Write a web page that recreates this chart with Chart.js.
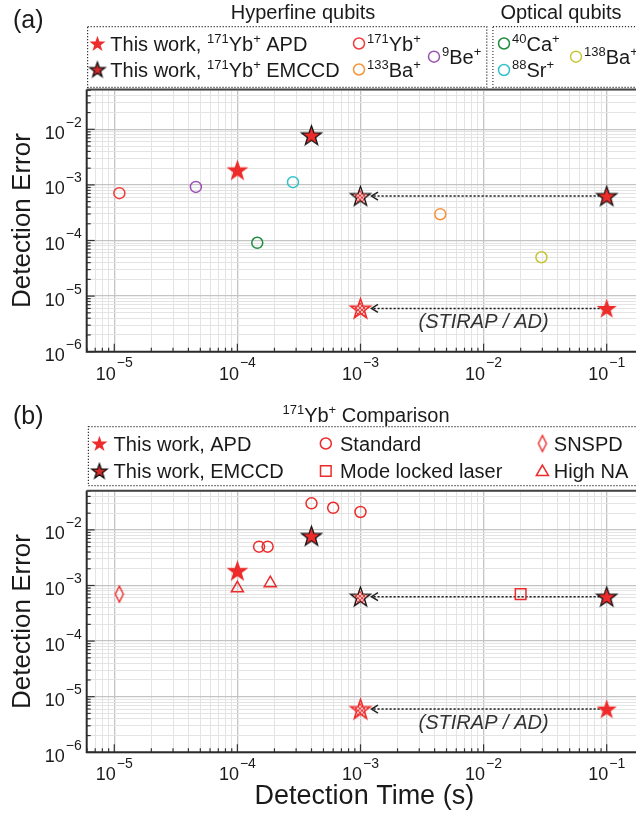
<!DOCTYPE html>
<html lang="en">
<head>
<meta charset="UTF-8">
<title>Detection error vs detection time</title>
<style>
    html, body {
        margin: 0;
        padding: 0;
        background: #fff;
        overflow: hidden;
    }
    .panel {
        position: absolute;
        left: 0;
    }
    #panelA { top: 0; }
    #panelB { top: 400px; }
</style>
<script src="https://cdn.jsdelivr.net/npm/chart.js"></script>
</head>
<body>

<canvas id="panelA" class="panel" width="636" height="400"></canvas>
<canvas id="panelB" class="panel" width="636" height="417"></canvas>

<script>
// decade labels on the axes (exponents)
var xDecades = [-5, -4, -3, -2, -1];
var yDecades = [-6, -5, -4, -3, -2];

// this work (both panels)
var apdTime = [1e-4], apdErr = [1.85e-3];
var emccdTime = [4e-4], emccdErr = [7.8e-3];
// projected with STIRAP / AD: measured at slowTime, shortened to fastTime
var slowTime = [1e-1], fastTime = [1e-3];
var emccdProjErr = [6.3e-4], apdProjErr = [6e-6];

// (a) other hyperfine and optical qubits
var yb171Time = [1.1e-5], yb171Err = [7.1e-4];
var be9Time = [4.6e-5], be9Err = [9.2e-4];
var ba133Time = [4.45e-3], ba133Err = [2.97e-4];
var ca40Time = [1.45e-4], ca40Err = [9.1e-5];
var sr88Time = [2.83e-4], sr88Err = [1.12e-3];
var ba138Time = [2.95e-2], ba138Err = [5.0e-5];

// (b) 171Yb+ comparison
var standardTime = [1.5e-4, 1.76e-4, 4e-4, 6e-4, 1e-3];
var standardErr = [5e-3, 5e-3, 3e-2, 2.5e-2, 2.1e-2];
var highNaTime = [1e-4, 1.85e-4], highNaErr = [8.9e-4, 1.1e-3];
var snspdTime = [1.1e-5], snspdErr = [7e-4];
var modeLockedTime = [2e-2], modeLockedErr = [7e-4];

// axis ranges
var xMin = 5.97e-6, xMax = 0.173;
var yMin = 1e-6, yMaxA = 0.052, yMaxB = 0.0507;

var RED = '#ee2b2b';
var FONT = "'Liberation Sans', Arial, Helvetica, sans-serif";
var INK = '#1a1a1a';

// ---------- markers ----------
function starPath(g, cx, cy, R) {
    g.beginPath();
    for (var k = 0; k < 10; k++) {
        var ang = -Math.PI / 2 + k * Math.PI / 5;
        var rr = k % 2 === 0 ? R : R * 0.4;
        g.lineTo(cx + rr * Math.cos(ang), cy + rr * Math.sin(ang));
    }
    g.closePath();
}

function starMarker(R, fill, stroke, lw, hatched) {
    var s = Math.ceil(2 * R + 4);
    var c = document.createElement('canvas');
    c.width = s; c.height = s;
    var g = c.getContext('2d');
    starPath(g, s / 2, s / 2 + R * 0.08, R);
    if (hatched) {
        var p = document.createElement('canvas');
        p.width = 4; p.height = 4;
        var pg = p.getContext('2d');
        pg.fillStyle = '#f9c4c4';
        pg.fillRect(0, 0, 4, 4);
        pg.fillStyle = '#ef3a3a';
        for (var i = 0; i < 4; i++) {
            pg.fillRect(i, i, 1, 1);
            pg.fillRect(3 - i, i, 1, 1);
        }
        g.fillStyle = g.createPattern(p, 'repeat');
    } else {
        g.fillStyle = fill;
    }
    g.fill();
    if (stroke) {
        g.lineJoin = 'miter';
        g.strokeStyle = stroke;
        g.lineWidth = lw;
        g.stroke();
    }
    return c;
}

function diamondMarker(color) {
    var c = document.createElement('canvas');
    c.width = 12; c.height = 20;
    var g = c.getContext('2d');
    g.beginPath();
    g.moveTo(6, 2); g.lineTo(10, 10); g.lineTo(6, 18); g.lineTo(2, 10);
    g.closePath();
    g.strokeStyle = color;
    g.lineWidth = 1.4;
    g.stroke();
    return c;
}

var starApd = starMarker(11.5, RED);
var starRed = starMarker(10.5, RED);
var starRedEdge = starMarker(10.5, RED, '#111', 1.25);
var starHatchDark = starMarker(10.5, null, '#111', 1.25, true);
var starHatchRed = starMarker(10.5, null, RED, 1.5, true);
var legStarApd = starMarker(8.5, RED);
var legStarEmccd = starMarker(8, '#d42a2a', '#111', 1.3);
var diamond = diamondMarker(RED);

function pts(xs, ys) {
    return xs.map(function (x, i) { return { x: x, y: ys[i] }; });
}

function series(xs, ys, style, color, radius) {
    return {
        data: pts(xs, ys),
        pointStyle: style,
        pointRadius: radius,
        borderColor: color,
        backgroundColor: 'rgba(0,0,0,0)',
        pointBorderWidth: 1.5,
        showLine: false
    };
}

function projected() {
    return [
        series(slowTime, emccdProjErr, starRedEdge, RED, 10),
        series(fastTime, emccdProjErr, starHatchDark, RED, 10),
        series(slowTime, apdProjErr, starRed, RED, 10),
        series(fastTime, apdProjErr, starHatchRed, RED, 10)
    ];
}

// ---------- axes ----------
function logTicks(min, max) {
    var out = [];
    for (var e = Math.floor(Math.log10(min)); e <= Math.ceil(Math.log10(max)); e++) {
        for (var m = 1; m <= 9; m++) {
            var v = m * Math.pow(10, e);
            if (v >= min * 0.9999 && v <= max * 1.0001) out.push({ value: v, major: m === 1 });
        }
    }
    return out;
}

function logAxis(min, max) {
    return {
        type: 'logarithmic',
        min: min,
        max: max,
        afterBuildTicks: function (scale) { scale.ticks = logTicks(scale.min, scale.max); },
        ticks: { display: false },
        border: { display: false },
        grid: {
            drawTicks: false,
            color: function (c) { return c.tick && c.tick.major ? '#c4c4c4' : '#e4e4e4'; },
            lineWidth: function (c) { return c.tick && c.tick.major ? 1.3 : 1; }
        }
    };
}

// ---------- text helpers ----------
function richWidth(ctx, str, size) {
    var w = 0, sup = Math.round(size * 0.65);
    str.split(/(\^\{[^}]*\})/).forEach(function (p) {
        if (!p) return;
        if (p.charAt(0) === '^') { ctx.font = sup + 'px ' + FONT; p = p.slice(2, -1); }
        else ctx.font = size + 'px ' + FONT;
        w += ctx.measureText(p).width;
    });
    return w;
}

// y is the vertical centre of the capitals, ^{..} is a superscript
function richText(ctx, str, x, y, size, align) {
    var sup = Math.round(size * 0.65);
    var base = y + size * 0.36;
    if (align === 'center') x -= richWidth(ctx, str, size) / 2;
    ctx.save();
    ctx.fillStyle = INK;
    ctx.textAlign = 'left';
    ctx.textBaseline = 'alphabetic';
    str.split(/(\^\{[^}]*\})/).forEach(function (p) {
        if (!p) return;
        if (p.charAt(0) === '^') {
            p = p.slice(2, -1);
            ctx.font = sup + 'px ' + FONT;
            ctx.fillText(p, x, base - size * 0.42);
        } else {
            ctx.font = size + 'px ' + FONT;
            ctx.fillText(p, x, base);
        }
        x += ctx.measureText(p).width;
    });
    ctx.restore();
}

function powParts(ctx, e) {
    ctx.font = '18px ' + FONT;
    var ten = ctx.measureText('10').width;
    ctx.font = '14px ' + FONT;
    var sup = ctx.measureText('\u2212' + (-e)).width;
    return { ten: ten, sup: sup, total: ten + 1 + sup };
}

function drawPow(ctx, e, x0, yTen, ySup, w) {
    ctx.font = '18px ' + FONT;
    ctx.fillText('10', x0, yTen);
    ctx.font = '14px ' + FONT;
    ctx.fillText('\u2212' + (-e), x0 + w.ten + 1, ySup);
}

function dottedBox(ctx, x0, y0, x1, y1) {
    ctx.save();
    ctx.strokeStyle = '#333';
    ctx.lineWidth = 1.2;
    ctx.setLineDash([1.2, 1.8]);
    ctx.strokeRect(x0, y0, x1 - x0, y1 - y0);
    ctx.restore();
}

function legCircle(ctx, x, y, color) {
    ctx.save();
    ctx.strokeStyle = color;
    ctx.lineWidth = 1.5;
    ctx.beginPath();
    ctx.arc(x, y, 5.5, 0, Math.PI * 2);
    ctx.stroke();
    ctx.restore();
}

function legImage(ctx, img, x, y) {
    ctx.drawImage(img, x - img.width / 2, y - img.height / 2);
}

function legShape(ctx, style, x, y, r) {
    ctx.save();
    ctx.strokeStyle = RED;
    ctx.fillStyle = 'rgba(0,0,0,0)';
    ctx.lineWidth = 1.5;
    Chart.helpers.drawPoint(ctx, { pointStyle: style, radius: r, borderWidth: 1.5, rotation: 0 }, x, y);
    ctx.restore();
}

// ---------- legends ----------
function legendA(ctx) {
    dottedBox(ctx, 87.6, 26.7, 486.8, 87.3);
    dottedBox(ctx, 492.9, 26.7, 640, 87.3);
    richText(ctx, 'Hyperfine qubits', 303, 11.5, 20, 'center');
    richText(ctx, 'Optical qubits', 561, 11.5, 20, 'center');
    legImage(ctx, legStarApd, 97.4, 43.5);
    richText(ctx, 'This work, ^{171}Yb^{+} APD', 110.3, 43.8, 20);
    legImage(ctx, legStarEmccd, 97.4, 69.5);
    richText(ctx, 'This work, ^{171}Yb^{+} EMCCD', 110.3, 69.7, 20);
    legCircle(ctx, 359, 43.5, '#f03c3c');
    richText(ctx, '^{171}Yb^{+}', 367, 43.8, 20);
    legCircle(ctx, 359, 69.5, '#f7943a');
    richText(ctx, '^{133}Ba^{+}', 367, 69.7, 20);
    legCircle(ctx, 434, 56.7, '#9b50b3');
    richText(ctx, '^{9}Be^{+}', 442, 56.7, 20);
    legCircle(ctx, 504, 43.5, '#1f8c3e');
    richText(ctx, '^{40}Ca^{+}', 512, 43.8, 20);
    legCircle(ctx, 504, 70, '#33c2ca');
    richText(ctx, '^{88}Sr^{+}', 512, 69.7, 20);
    legCircle(ctx, 576, 56.7, '#c6c43a');
    richText(ctx, '^{138}Ba^{+}', 584, 56.7, 20);
}

function legendB(ctx) {
    dottedBox(ctx, 88.4, 26.7, 640, 85.7);
    richText(ctx, '^{171}Yb^{+} Comparison', 366, 14.7, 20, 'center');
    legImage(ctx, legStarApd, 99.4, 43.5);
    richText(ctx, 'This work, APD', 113.6, 43.8, 20);
    legImage(ctx, legStarEmccd, 99.4, 71);
    richText(ctx, 'This work, EMCCD', 113.6, 71, 20);
    legCircle(ctx, 325.8, 43.5, RED);
    richText(ctx, 'Standard', 340, 43.8, 20);
    legShape(ctx, 'rect', 325.8, 71, 7.5);
    richText(ctx, 'Mode locked laser', 340, 71, 20);
    legImage(ctx, diamond, 542.4, 43.5);
    richText(ctx, 'SNSPD', 553.8, 43.8, 20);
    legShape(ctx, 'triangle', 542.4, 72, 7);
    richText(ctx, 'High NA', 553.8, 71, 20);
}

// ---------- per-panel drawing ----------
function panelPlugin(cfg) {
    return {
        id: 'panel',
        beforeDatasetsDraw: function (chart) {
            var ctx = chart.ctx, xs = chart.scales.x, ys = chart.scales.y;
            ctx.save();
            ctx.strokeStyle = '#222';
            ctx.lineWidth = 1.5;
            [emccdProjErr[0], apdProjErr[0]].forEach(function (err) {
                var y = ys.getPixelForValue(err);
                var x0 = xs.getPixelForValue(slowTime[0]) - 7;
                var x1 = xs.getPixelForValue(fastTime[0]) + 11;
                ctx.setLineDash([2.2, 1.8]);
                ctx.beginPath();
                ctx.moveTo(x0, y);
                ctx.lineTo(x1 + 1, y);
                ctx.stroke();
                ctx.setLineDash([]);
                ctx.beginPath();
                ctx.moveTo(x1 + 6.5, y - 4);
                ctx.lineTo(x1, y);
                ctx.lineTo(x1 + 6.5, y + 4);
                ctx.stroke();
            });
            ctx.restore();
        },
        afterDraw: function (chart) {
            var ctx = chart.ctx, a = chart.chartArea, xs = chart.scales.x, ys = chart.scales.y;
            ctx.save();
            // inward tick marks
            ctx.strokeStyle = '#333';
            ctx.lineWidth = 1.2;
            xs.ticks.forEach(function (t) {
                var px = xs.getPixelForValue(t.value), len = t.major ? 8 : 4;
                ctx.beginPath(); ctx.moveTo(px, a.bottom); ctx.lineTo(px, a.bottom - len); ctx.stroke();
            });
            ys.ticks.forEach(function (t) {
                var py = ys.getPixelForValue(t.value), len = t.major ? 8 : 4;
                ctx.beginPath(); ctx.moveTo(a.left, py); ctx.lineTo(a.left + len, py); ctx.stroke();
            });
            // frame
            ctx.strokeStyle = '#2b2b2b';
            ctx.lineWidth = 2;
            ctx.beginPath();
            ctx.moveTo(a.left, a.top);
            ctx.lineTo(a.left, a.bottom);
            ctx.lineTo(a.right + 2, a.bottom);
            ctx.stroke();
            ctx.strokeStyle = '#444';
            ctx.beginPath();
            ctx.moveTo(a.left, a.top);
            ctx.lineTo(a.right + 2, a.top);
            ctx.stroke();

            // tick labels
            ctx.fillStyle = INK;
            ctx.textAlign = 'left';
            ctx.textBaseline = 'middle';
            xDecades.forEach(function (e) {
                var px = xs.getPixelForValue(Math.pow(10, e));
                var w = powParts(ctx, e);
                drawPow(ctx, e, px - w.total / 2, a.bottom + 23, a.bottom + 11.5, w);
            });
            yDecades.forEach(function (e) {
                var py = ys.getPixelForValue(Math.pow(10, e));
                var w = powParts(ctx, e);
                drawPow(ctx, e, a.left - 5 - w.total, py + 4.5, py - 6.3, w);
            });

            // axis titles
            ctx.font = '26px ' + FONT;
            ctx.textAlign = 'center';
            ctx.save();
            ctx.translate(23, (a.top + a.bottom) / 2);
            ctx.rotate(-Math.PI / 2);
            ctx.fillText('Detection Error', 0, 0);
            ctx.restore();
            if (cfg.xTitle) {
                ctx.font = '27px ' + FONT;
                ctx.fillText('Detection Time (s)', (a.left + a.right) / 2 + 3, a.bottom + 44);
            }

            // STIRAP label, centred (in log) along the arrow
            ctx.font = 'italic 20px ' + FONT;
            ctx.fillStyle = '#333';
            ctx.fillText('(STIRAP / AD)', xs.getPixelForValue(Math.sqrt(slowTime[0] * fastTime[0])),
                ys.getPixelForValue(apdProjErr[0]) + 14.5);

            // panel letter
            ctx.fillStyle = INK;
            ctx.textAlign = 'left';
            ctx.textBaseline = 'alphabetic';
            ctx.font = '25px ' + FONT;
            ctx.fillText(cfg.letter, 13, cfg.letterBase);
            ctx.restore();

            cfg.legend(ctx);
        }
    };
}

function makePanel(id, datasets, yMax, pad, cfg) {
    return new Chart(document.getElementById(id), {
        type: 'scatter',
        data: { datasets: datasets },
        options: {
            responsive: false,
            animation: false,
            layout: { padding: pad, autoPadding: false },
            plugins: { legend: { display: false }, tooltip: { enabled: false } },
            scales: { x: logAxis(xMin, xMax), y: logAxis(yMin, yMax) }
        },
        plugins: [panelPlugin(cfg)]
    });
}

makePanel('panelA', [
    series(apdTime, apdErr, starApd, RED, 10),
    series(emccdTime, emccdErr, starRedEdge, RED, 10),
    series(yb171Time, yb171Err, 'circle', '#f03c3c', 5.5),
    series(be9Time, be9Err, 'circle', '#9b50b3', 5.5),
    series(ba133Time, ba133Err, 'circle', '#f7943a', 5.5),
    series(ca40Time, ca40Err, 'circle', '#1f8c3e', 5.5),
    series(sr88Time, sr88Err, 'circle', '#33c2ca', 5.5),
    series(ba138Time, ba138Err, 'circle', '#c6c43a', 5.5)
].concat(projected()), yMaxA,
    { left: 86.7, right: 0, top: 89.5, bottom: 48.3 },
    { letter: '(a)', letterBase: 27.5, legend: legendA, xTitle: false });

makePanel('panelB', [
    series(apdTime, apdErr, starApd, RED, 10),
    series(emccdTime, emccdErr, starRedEdge, RED, 10),
    series(standardTime, standardErr, 'circle', RED, 5.5),
    series(highNaTime, highNaErr, 'triangle', RED, 7),
    series(snspdTime, snspdErr, diamond, RED, 8),
    series(modeLockedTime, modeLockedErr, 'rect', RED, 7.5)
].concat(projected()), yMaxB,
    { left: 86.7, right: 0, top: 90.7, bottom: 64.7 },
    { letter: '(b)', letterBase: 24.2, legend: legendB, xTitle: true });
</script>
</body>
</html>
